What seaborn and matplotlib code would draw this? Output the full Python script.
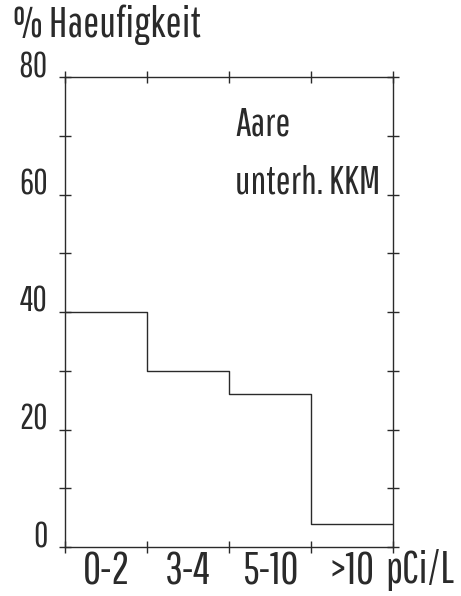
import numpy as np
import pandas as pd
import matplotlib
matplotlib.use("Agg")
import matplotlib.pyplot as plt
import seaborn as sns
from matplotlib import font_manager

# ---- data ----
categories = ["0-2", "3-4", "5-10", ">10"]
values = [40, 30, 26, 4]
y_major = [0, 20, 40, 60, 80]
y_minor = [10, 30, 50, 70]
title = "% Haeufigkeit"
unit = "pCi/L"
note_lines = ["Aare", "unterh. KKM"]

sns.set_theme(style="white")
names = {f.name for f in font_manager.fontManager.ttflist}
main = "Pathway Gothic One" if "Pathway Gothic One" in names else "DejaVu Sans"
fam = [main, "DejaVu Sans"]
plt.rcParams["font.family"] = fam

ink = "#2a2a2a"
fig = plt.figure(figsize=(4.61, 5.96), dpi=100)
renderer = fig.canvas.get_renderer()


def fit_size(s, target_px, base=20):
    t = fig.text(0, 0, s, fontsize=base)
    w = t.get_window_extent(renderer).width
    t.remove()
    return base * target_px / w


ax = fig.add_axes([65/461, 1-547/596, (393-65)/461, (547-77)/596])

edges = np.arange(len(categories) + 1)
df = pd.DataFrame({"x": edges, "y": values + [values[-1]]})
sns.lineplot(data=df, x="x", y="y", drawstyle="steps-post", color=ink, lw=1.0, ax=ax)

ax.set_xlim(0, len(categories))
ax.set_ylim(0, 80)
ax.set_xlabel("")
ax.set_ylabel("")

for s in ax.spines.values():
    s.set_color(ink)
    s.set_linewidth(1.0)

fs_x = fit_size("5-10", 57)
fs_y = fit_size("60", 29)

ax.set_xticks(edges)
ax.set_xticklabels([])
ax.set_xticks(edges[:-1] + 0.5, minor=True)
ax.set_xticklabels(categories, minor=True, fontsize=fs_x)
ax.tick_params(axis="x", which="major", direction="inout", length=8.6, width=1.0,
               color=ink, top=True, bottom=True)
ax.tick_params(axis="x", which="minor", length=0, pad=3, labelcolor=ink)

ax.set_yticks(y_major)
ax.set_yticklabels([str(v) for v in y_major], fontsize=fs_y)
ax.set_yticks(y_minor, minor=True)
ax.tick_params(axis="y", which="both", direction="inout", length=8.6, width=1.0,
               color=ink, left=True, right=True, labelcolor=ink, pad=8)
for lab in ax.get_yticklabels():
    lab.set_verticalalignment("baseline")

fig.text(385/461, 1-583/596, unit, fontsize=fs_x, color=ink, ha="left", va="baseline")
fig.text(13/461, 1-37/596, title, fontsize=fit_size(title, 187), color=ink,
         ha="left", va="baseline")
fs_n = fit_size(note_lines[1], 145)
fig.text(235/461, 1-135/596, note_lines[0], fontsize=fs_n, color=ink, ha="left", va="baseline")
fig.text(235/461, 1-193/596, note_lines[1], fontsize=fs_n, color=ink, ha="left", va="baseline")

fig.savefig("out.png", dpi=100, facecolor="white")
